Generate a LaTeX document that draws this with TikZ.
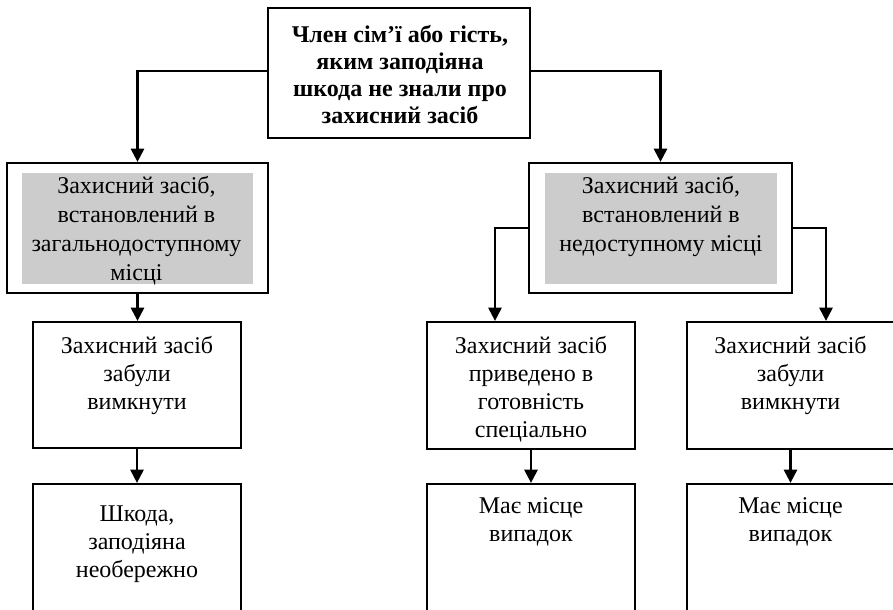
\documentclass[tikz,border=0pt]{standalone}
\usepackage{fontspec}
\setmainfont{Liberation Serif}
\usetikzlibrary{arrows.meta,calc}
\definecolor{boxgray}{RGB}{204,204,204}
\begin{document}
\begin{tikzpicture}[x=0.75pt,y=-0.75pt,
  box/.style={draw=black, line width=1.7pt, fill=white, rectangle, inner sep=0pt},
  graybox/.style={fill=boxgray, rectangle, inner sep=0pt},
  txt/.style={align=center, inner sep=0pt, anchor=north, font=\fontsize{18}{21}\selectfont},
  gtxt/.style={align=center, inner sep=0pt, anchor=north, font=\fontsize{18}{21.75}\selectfont},
  btxt/.style={align=center, inner sep=0pt, anchor=north, font=\fontsize{18}{20.25}\selectfont\bfseries},
  arr/.style={line width=1.7pt, -{Triangle[length=10pt,width=10pt]}}]
\clip (0,0) rectangle (893,610);
\fill[white] (0,0) rectangle (893,610);

% boxes
\node[box, minimum width=196.5pt, minimum height=97.5pt] (T) at (399,73) {};
\node[box, minimum width=195.75pt, minimum height=97.5pt] (L) at (137.5,228) {};
\node[graybox, minimum width=173.25pt, minimum height=83.25pt] (Lg) at (137.5,228.5) {};
\node[box, minimum width=197.25pt, minimum height=97.5pt] (R) at (660.5,228) {};
\node[graybox, minimum width=174pt, minimum height=83.25pt] (Rg) at (661,228.5) {};
\node[box, minimum width=156pt, minimum height=94.5pt] (L2) at (137,385) {};
\node[box, minimum width=156pt, minimum height=117pt] (L3) at (137,562) {};
\node[box, minimum width=156pt, minimum height=95.25pt] (A) at (531,385.5) {};
\node[box, minimum width=156pt, minimum height=117pt] (A2) at (531,562) {};
\node[box, minimum width=155.25pt, minimum height=95.25pt] (B) at (790.5,385.5) {};
\node[box, minimum width=155.25pt, minimum height=117pt] (B2) at (790.5,562) {};

% texts
\node[btxt] (Tt) at ($(T.north)+(1,18)$) {Член сім’ї або гість,\\яким заподіяна\\шкода не знали про\\захисний засіб};
\node[gtxt] (Lt) at ($(L.north)+(-1,14)$) {Захисний засіб,\\встановлений в\\загальнодоступному\\місці};
\node[gtxt] (Rt) at ($(R.north)+(0.5,14)$) {Захисний засіб,\\встановлений в\\недоступному місці};
\node[txt] (L2t) at ($(L2.north)+(0,15)$) {Захисний засіб\\забули\\вимкнути};
\node[txt] (L3t) at ($(L3.north)+(0,23)$) {Шкода,\\заподіяна\\необережно};
\node[txt] (At) at ($(A.north)+(0,15)$) {Захисний засіб\\приведено в\\готовність\\спеціально};
\node[txt] (A2t) at ($(A2.north)+(0,14)$) {Має місце\\випадок};
\node[txt] (Bt) at ($(B.north)+(0,15)$) {Захисний засіб\\забули\\вимкнути};
\node[txt] (B2t) at ($(B2.north)+(0,14)$) {Має місце\\випадок};

% connectors
\draw[arr] ($(T.west)+(0,-2)$) -| (L.north);
\draw[arr] ($(T.east)+(0,-2)$) -| (R.north);
\draw[arr] (L.south) -- (L.south |- L2.north);
\draw[arr] (L2.south) -- (L2.south |- L3.north);
\coordinate (Aa) at ($(A.north)+(-36,0)$);
\coordinate (Ba) at ($(B.north)+(35.5,0)$);
\draw[arr] (R.west) -| (Aa);
\draw[arr] (R.east) -| (Ba);
\draw[arr] (A.south) -- (A2.north);
\draw[arr] (B.south) -- (B2.north);
\end{tikzpicture}
\end{document}
